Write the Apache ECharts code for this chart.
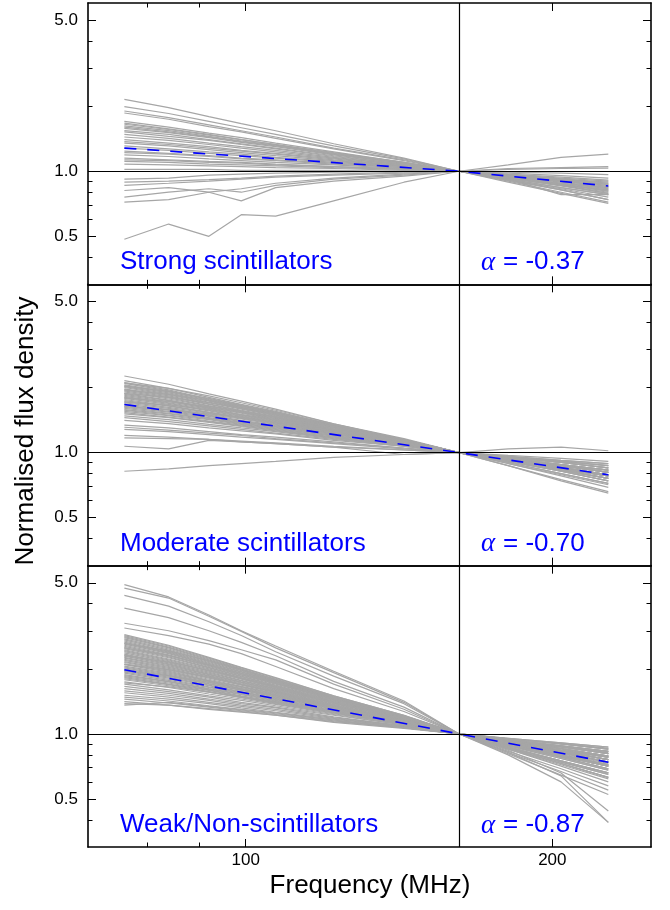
<!DOCTYPE html>
<html>
<head>
<meta charset="utf-8">
<script src="https://cdn.jsdelivr.net/npm/echarts@6/dist/echarts.min.js"></script>
<style>
html, body { margin: 0; padding: 0; background: #fff; }
#chart { width: 670px; height: 910px; }
</style>
</head>
<body>
<div id="chart"></div>
<script>
// frequencies (MHz) shared by all spectra, normalised at 162 MHz
const freqs = [76, 84, 92, 99, 107, 122, 143, 162, 181, 204, 227];

// strong scintillators
const strongLines = [
  [2.15, 1.97, 1.79, 1.66, 1.54, 1.34, 1.15, 1, 0.96, 0.92, 0.89],
  [1.99, 1.85, 1.70, 1.59, 1.48, 1.31, 1.14, 1, 0.95, 0.90, 0.85],
  [1.90, 1.77, 1.64, 1.54, 1.44, 1.28, 1.13, 1, 0.94, 0.88, 0.83],
  [1.86, 1.74, 1.61, 1.52, 1.42, 1.27, 1.12, 1, 0.93, 0.87, 0.81],
  [1.70, 1.60, 1.50, 1.43, 1.35, 1.23, 1.10, 1, 0.91, 0.83, 0.76],
  [1.67, 1.57, 1.48, 1.40, 1.33, 1.22, 1.10, 1, 0.955, 0.91, 0.87],
  [1.62, 1.54, 1.45, 1.38, 1.32, 1.20, 1.09, 1, 0.94, 0.87, 0.82],
  [1.58, 1.51, 1.43, 1.36, 1.30, 1.19, 1.09, 1, 0.93, 0.86, 0.80],
  [1.54, 1.48, 1.40, 1.34, 1.28, 1.18, 1.08, 1, 0.965, 0.93, 0.90],
  [1.48, 1.42, 1.35, 1.30, 1.25, 1.16, 1.07, 1, 0.95, 0.90, 0.86],
  [1.44, 1.39, 1.33, 1.28, 1.23, 1.15, 1.07, 1, 0.92, 0.84, 0.78],
  [1.40, 1.35, 1.30, 1.25, 1.21, 1.14, 1.06, 1, 0.94, 0.88, 0.84],
  [1.35, 1.31, 1.26, 1.22, 1.18, 1.12, 1.06, 1, 1.07, 1.16, 1.20],
  [1.28, 1.25, 1.21, 1.18, 1.15, 1.10, 1.05, 1, 0.93, 0.87, 0.82],
  [1.24, 1.21, 1.18, 1.15, 1.13, 1.09, 1.04, 1, 0.98, 0.955, 0.93],
  [1.19, 1.17, 1.14, 1.12, 1.10, 1.07, 1.03, 1, 0.945, 0.89, 0.84],
  [1.15, 1.13, 1.11, 1.10, 1.08, 1.05, 1.03, 1, 0.91, 0.82, 0.74],
  [1.11, 1.10, 1.08, 1.07, 1.06, 1.04, 1.02, 1, 1.03, 1.04, 1.05],
  [1.08, 1.07, 1.06, 1.05, 1.04, 1.03, 1.01, 1, 0.96, 0.92, 0.88],
  [1.02, 1.02, 1.02, 1.01, 1.01, 1.01, 1.00, 1, 0.99, 0.98, 0.965],
  [1.60, 1.52, 1.44, 1.37, 1.31, 1.20, 1.09, 1, 0.90, 0.80, 0.72],
  [1.52, 1.45, 1.39, 1.33, 1.27, 1.17, 1.08, 1, 0.97, 0.94, 0.91],
  [1.31, 1.27, 1.23, 1.20, 1.16, 1.11, 1.05, 1, 0.89, 0.79, 0.71],
  [1.22, 1.20, 1.17, 1.14, 1.12, 1.08, 1.04, 1, 0.93, 0.86, 0.79],
  [1.13, 1.12, 1.10, 1.09, 1.07, 1.05, 1.02, 1, 1.02, 1.03, 1.035],
  [1.65, 1.56, 1.47, 1.40, 1.33, 1.21, 1.10, 1, 0.92, 0.78, 0.78],
  [1.37, 1.33, 1.28, 1.24, 1.20, 1.13, 1.06, 1, 0.91, 0.82, 0.74],
  [0.92, 0.93, 0.96, 0.97, 0.98, 0.99, 1.00, 1, 0.95, 0.91, 0.87],
  [0.89, 0.90, 0.915, 0.93, 0.95, 0.97, 0.99, 1, 0.93, 0.87, 0.81],
  [0.86, 0.88, 0.90, 0.92, 0.94, 0.96, 0.98, 1, 0.94, 0.88, 0.83],
  [0.815, 0.84, 0.80, 0.83, 0.88, 0.93, 0.97, 1, 0.92, 0.84, 0.78],
  [0.76, 0.80, 0.83, 0.80, 0.86, 0.92, 0.96, 1, 0.93, 0.855, 0.79],
  [0.72, 0.74, 0.80, 0.73, 0.84, 0.90, 0.95, 1, 0.95, 0.90, 0.85],
  [0.485, 0.57, 0.50, 0.63, 0.62, 0.73, 0.89, 1, 0.96, 0.92, 0.88]
];

// moderate scintillators
const moderateLines = [
  [2.26, 2.07, 1.87, 1.73, 1.59, 1.36, 1.16, 1, 0.94, 0.88, 0.83],
  [2.15, 1.98, 1.80, 1.67, 1.55, 1.34, 1.15, 1, 0.91, 0.83, 0.76],
  [2.11, 1.95, 1.77, 1.65, 1.53, 1.33, 1.15, 1, 0.955, 0.91, 0.87],
  [2.09, 1.93, 1.76, 1.64, 1.52, 1.33, 1.15, 1, 0.93, 0.855, 0.79],
  [2.06, 1.91, 1.75, 1.62, 1.51, 1.32, 1.14, 1, 0.90, 0.80, 0.72],
  [2.04, 1.89, 1.73, 1.61, 1.50, 1.32, 1.14, 1, 0.93, 0.87, 0.81],
  [2.02, 1.87, 1.71, 1.60, 1.49, 1.31, 1.14, 1, 0.92, 0.84, 0.78],
  [2.00, 1.85, 1.70, 1.59, 1.48, 1.31, 1.14, 1, 0.96, 0.92, 0.89],
  [1.97, 1.83, 1.68, 1.57, 1.47, 1.30, 1.13, 1, 0.91, 0.82, 0.74],
  [1.95, 1.81, 1.67, 1.56, 1.46, 1.29, 1.13, 1, 0.95, 0.90, 0.85],
  [1.93, 1.79, 1.65, 1.55, 1.45, 1.28, 1.13, 1, 0.93, 0.855, 0.79],
  [1.91, 1.77, 1.64, 1.54, 1.44, 1.28, 1.13, 1, 0.89, 0.79, 0.71],
  [1.88, 1.75, 1.62, 1.53, 1.43, 1.27, 1.12, 1, 0.94, 0.88, 0.83],
  [1.86, 1.74, 1.61, 1.52, 1.42, 1.27, 1.12, 1, 0.91, 0.83, 0.76],
  [1.84, 1.72, 1.60, 1.50, 1.41, 1.26, 1.12, 1, 0.97, 0.94, 0.91],
  [1.82, 1.70, 1.59, 1.49, 1.40, 1.26, 1.12, 1, 0.93, 0.87, 0.81],
  [1.80, 1.69, 1.57, 1.48, 1.39, 1.25, 1.11, 1, 0.92, 0.84, 0.78],
  [1.78, 1.67, 1.56, 1.47, 1.38, 1.25, 1.11, 1, 0.87, 0.75, 0.66],
  [1.76, 1.65, 1.54, 1.46, 1.37, 1.24, 1.11, 1, 0.95, 0.90, 0.85],
  [1.74, 1.64, 1.53, 1.45, 1.37, 1.24, 1.11, 1, 0.91, 0.82, 0.74],
  [1.72, 1.62, 1.52, 1.44, 1.36, 1.23, 1.10, 1, 0.93, 0.855, 0.79],
  [1.70, 1.60, 1.50, 1.43, 1.35, 1.23, 1.10, 1, 0.955, 0.91, 0.87],
  [1.68, 1.58, 1.49, 1.41, 1.34, 1.22, 1.10, 1, 0.89, 0.78, 0.69],
  [1.66, 1.57, 1.48, 1.40, 1.33, 1.22, 1.10, 1, 0.93, 0.87, 0.81],
  [1.64, 1.55, 1.47, 1.39, 1.32, 1.21, 1.09, 1, 0.91, 0.83, 0.76],
  [1.62, 1.54, 1.45, 1.38, 1.32, 1.20, 1.09, 1, 0.94, 0.88, 0.83],
  [1.60, 1.52, 1.44, 1.37, 1.31, 1.20, 1.09, 1, 0.92, 0.84, 0.78],
  [1.58, 1.51, 1.43, 1.36, 1.30, 1.19, 1.09, 1, 0.87, 0.74, 0.65],
  [1.57, 1.49, 1.42, 1.35, 1.29, 1.19, 1.08, 1, 0.93, 0.855, 0.79],
  [1.55, 1.48, 1.40, 1.34, 1.28, 1.18, 1.08, 1, 0.96, 0.92, 0.89],
  [1.53, 1.46, 1.39, 1.33, 1.27, 1.17, 1.08, 1, 0.91, 0.82, 0.74],
  [1.51, 1.45, 1.38, 1.32, 1.26, 1.17, 1.08, 1, 0.93, 0.87, 0.81],
  [1.48, 1.42, 1.35, 1.30, 1.25, 1.16, 1.07, 1, 0.95, 0.90, 0.85],
  [1.45, 1.39, 1.33, 1.28, 1.23, 1.15, 1.07, 1, 0.91, 0.83, 0.76],
  [1.41, 1.36, 1.30, 1.26, 1.22, 1.14, 1.07, 1, 0.92, 0.84, 0.78],
  [1.34, 1.30, 1.25, 1.21, 1.18, 1.12, 1.05, 1, 0.90, 0.80, 0.72],
  [1.31, 1.27, 1.23, 1.20, 1.16, 1.11, 1.05, 1, 0.955, 0.91, 0.87],
  [1.28, 1.25, 1.21, 1.18, 1.15, 1.10, 1.04, 1, 0.93, 0.87, 0.81],
  [1.20, 1.18, 1.15, 1.13, 1.11, 1.07, 1.03, 1, 0.92, 0.84, 0.78],
  [1.17, 1.16, 1.15, 1.12, 1.10, 1.06, 1.03, 1, 0.94, 0.88, 0.83],
  [1.07, 1.04, 1.14, 1.12, 1.10, 1.06, 0.98, 1, 0.93, 0.855, 0.79],
  [0.82, 0.84, 0.87, 0.89, 0.91, 0.95, 0.98, 1, 1.04, 1.06, 1.02],
  [1.95, 1.86, 1.74, 1.63, 1.52, 1.34, 1.15, 1, 0.94, 0.88, 0.83],
  [1.88, 1.80, 1.70, 1.60, 1.50, 1.32, 1.14, 1, 0.92, 0.84, 0.78],
  [1.79, 1.72, 1.63, 1.55, 1.46, 1.30, 1.13, 1, 0.93, 0.855, 0.79],
  [1.71, 1.66, 1.58, 1.50, 1.42, 1.28, 1.12, 1, 0.91, 0.83, 0.76],
  [1.63, 1.58, 1.51, 1.45, 1.38, 1.26, 1.11, 1, 0.95, 0.90, 0.85],
  [2.10, 1.98, 1.83, 1.70, 1.57, 1.36, 1.15, 1, 0.93, 0.87, 0.81],
  [2.03, 1.92, 1.78, 1.66, 1.54, 1.35, 1.15, 1, 0.92, 0.84, 0.78]
];

// weak / non-scintillators
const weakLines = [
  [4.90, 4.30, 3.55, 3.00, 2.55, 1.95, 1.42, 1, 0.80, 0.60, 0.39],
  [4.72, 4.25, 3.50, 2.98, 2.50, 1.92, 1.40, 1, 0.82, 0.64, 0.39],
  [4.37, 3.90, 3.30, 2.85, 2.40, 1.85, 1.38, 1, 0.87, 0.75, 0.66],
  [3.82, 3.45, 3.00, 2.65, 2.30, 1.75, 1.33, 1, 0.84, 0.66, 0.44],
  [3.25, 3.00, 2.70, 2.45, 2.20, 1.70, 1.30, 1, 0.86, 0.73, 0.63],
  [3.09, 2.85, 2.60, 2.35, 2.05, 1.62, 1.27, 1, 0.89, 0.79, 0.71],
  [2.88, 2.57, 2.26, 2.03, 1.82, 1.50, 1.22, 1, 0.955, 0.91, 0.87],
  [2.85, 2.55, 2.24, 2.02, 1.81, 1.50, 1.22, 1, 0.93, 0.855, 0.79],
  [2.82, 2.52, 2.22, 2.00, 1.79, 1.49, 1.21, 1, 0.90, 0.80, 0.72],
  [2.79, 2.50, 2.20, 1.99, 1.78, 1.48, 1.21, 1, 0.94, 0.88, 0.83],
  [2.75, 2.47, 2.18, 1.97, 1.77, 1.48, 1.21, 1, 0.87, 0.75, 0.66],
  [2.72, 2.44, 2.16, 1.96, 1.76, 1.47, 1.20, 1, 0.91, 0.83, 0.76],
  [2.69, 2.41, 2.14, 1.94, 1.75, 1.47, 1.20, 1, 0.95, 0.90, 0.85],
  [2.66, 2.39, 2.12, 1.93, 1.74, 1.46, 1.20, 1, 0.89, 0.78, 0.69],
  [2.63, 2.37, 2.10, 1.91, 1.73, 1.45, 1.20, 1, 0.92, 0.84, 0.78],
  [2.60, 2.35, 2.09, 1.90, 1.72, 1.45, 1.19, 1, 0.93, 0.87, 0.81],
  [2.57, 2.32, 2.07, 1.88, 1.71, 1.44, 1.19, 1, 0.91, 0.82, 0.74],
  [2.54, 2.30, 2.05, 1.87, 1.70, 1.44, 1.19, 1, 0.86, 0.73, 0.63],
  [2.51, 2.27, 2.03, 1.85, 1.68, 1.43, 1.19, 1, 0.95, 0.90, 0.86],
  [2.48, 2.25, 2.02, 1.84, 1.67, 1.42, 1.18, 1, 0.89, 0.79, 0.71],
  [2.45, 2.22, 2.00, 1.82, 1.66, 1.41, 1.18, 1, 0.93, 0.855, 0.79],
  [2.43, 2.20, 1.98, 1.81, 1.65, 1.41, 1.18, 1, 0.85, 0.71, 0.60],
  [2.40, 2.18, 1.96, 1.80, 1.64, 1.40, 1.18, 1, 0.91, 0.83, 0.76],
  [2.37, 2.16, 1.95, 1.79, 1.63, 1.40, 1.17, 1, 0.94, 0.88, 0.83],
  [2.34, 2.13, 1.93, 1.77, 1.62, 1.39, 1.17, 1, 0.88, 0.77, 0.68],
  [2.32, 2.11, 1.91, 1.76, 1.61, 1.39, 1.17, 1, 0.90, 0.80, 0.72],
  [2.29, 2.09, 1.89, 1.74, 1.60, 1.38, 1.17, 1, 0.92, 0.84, 0.78],
  [2.26, 2.07, 1.88, 1.73, 1.59, 1.37, 1.16, 1, 0.93, 0.87, 0.81],
  [2.24, 2.05, 1.86, 1.72, 1.58, 1.36, 1.16, 1, 0.83, 0.69, 0.575],
  [2.21, 2.03, 1.85, 1.70, 1.57, 1.35, 1.16, 1, 0.91, 0.82, 0.74],
  [2.19, 2.01, 1.83, 1.69, 1.56, 1.35, 1.16, 1, 0.95, 0.90, 0.85],
  [2.16, 1.99, 1.81, 1.68, 1.55, 1.34, 1.15, 1, 0.87, 0.74, 0.65],
  [2.14, 1.97, 1.79, 1.66, 1.54, 1.34, 1.15, 1, 0.93, 0.855, 0.79],
  [2.11, 1.95, 1.77, 1.65, 1.53, 1.33, 1.15, 1, 0.89, 0.79, 0.71],
  [2.09, 1.93, 1.76, 1.64, 1.52, 1.33, 1.15, 1, 0.91, 0.83, 0.76],
  [2.06, 1.91, 1.75, 1.62, 1.51, 1.32, 1.14, 1, 0.82, 0.67, 0.55],
  [2.04, 1.89, 1.73, 1.61, 1.50, 1.32, 1.14, 1, 0.94, 0.88, 0.83],
  [2.02, 1.87, 1.71, 1.60, 1.49, 1.31, 1.14, 1, 0.89, 0.78, 0.69],
  [2.00, 1.85, 1.70, 1.59, 1.48, 1.31, 1.14, 1, 0.92, 0.84, 0.78],
  [1.97, 1.83, 1.68, 1.57, 1.47, 1.30, 1.13, 1, 0.91, 0.82, 0.74],
  [1.95, 1.81, 1.67, 1.56, 1.46, 1.29, 1.13, 1, 0.93, 0.87, 0.81],
  [1.93, 1.79, 1.65, 1.55, 1.45, 1.28, 1.13, 1, 0.85, 0.72, 0.62],
  [1.91, 1.77, 1.64, 1.54, 1.44, 1.28, 1.13, 1, 0.90, 0.80, 0.72],
  [1.88, 1.75, 1.62, 1.53, 1.43, 1.27, 1.12, 1, 0.955, 0.91, 0.87],
  [1.86, 1.74, 1.61, 1.52, 1.42, 1.27, 1.12, 1, 0.87, 0.75, 0.66],
  [1.84, 1.72, 1.60, 1.50, 1.41, 1.26, 1.12, 1, 0.91, 0.83, 0.76],
  [1.82, 1.70, 1.59, 1.49, 1.40, 1.26, 1.12, 1, 0.93, 0.855, 0.79],
  [1.80, 1.69, 1.57, 1.48, 1.39, 1.25, 1.11, 1, 0.81, 0.645, 0.525],
  [1.78, 1.67, 1.56, 1.47, 1.38, 1.25, 1.11, 1, 0.89, 0.79, 0.71],
  [1.74, 1.64, 1.53, 1.45, 1.37, 1.24, 1.11, 1, 0.94, 0.88, 0.83],
  [1.70, 1.60, 1.50, 1.43, 1.35, 1.23, 1.10, 1, 0.91, 0.82, 0.74],
  [1.66, 1.57, 1.48, 1.40, 1.33, 1.22, 1.10, 1, 0.92, 0.84, 0.78],
  [1.62, 1.54, 1.45, 1.38, 1.32, 1.20, 1.09, 1, 0.88, 0.77, 0.68],
  [1.58, 1.51, 1.43, 1.36, 1.30, 1.19, 1.09, 1, 0.93, 0.87, 0.81],
  [1.55, 1.48, 1.40, 1.34, 1.28, 1.18, 1.08, 1, 0.90, 0.80, 0.72],
  [1.51, 1.45, 1.38, 1.32, 1.26, 1.17, 1.08, 1, 0.91, 0.83, 0.76],
  [1.48, 1.42, 1.35, 1.30, 1.25, 1.16, 1.07, 1, 0.86, 0.73, 0.63],
  [1.45, 1.39, 1.33, 1.28, 1.23, 1.15, 1.07, 1, 0.95, 0.90, 0.85],
  [1.41, 1.36, 1.30, 1.26, 1.22, 1.14, 1.07, 1, 0.89, 0.78, 0.69],
  [1.36, 1.40, 1.34, 1.29, 1.24, 1.16, 1.07, 1, 0.93, 0.855, 0.79],
  [1.38, 1.36, 1.31, 1.27, 1.22, 1.13, 1.06, 1, 0.91, 0.82, 0.74],
  [2.30, 2.15, 1.97, 1.81, 1.65, 1.40, 1.17, 1, 0.87, 0.74, 0.65],
  [2.10, 1.98, 1.83, 1.70, 1.57, 1.36, 1.15, 1, 0.92, 0.84, 0.78],
  [1.96, 1.86, 1.73, 1.62, 1.51, 1.33, 1.14, 1, 0.94, 0.875, 0.82],
  [1.72, 1.65, 1.56, 1.48, 1.40, 1.27, 1.12, 1, 0.89, 0.79, 0.71],
  [2.50, 2.30, 2.08, 1.90, 1.72, 1.45, 1.19, 1, 0.91, 0.83, 0.76],
  [2.62, 2.42, 2.18, 1.98, 1.79, 1.48, 1.20, 1, 0.90, 0.81, 0.73]
];

// mean spectral fits (dashed blue)
const fitFreqs = [76, 162, 227];
const strongFit = [1.28, 1.0, 0.855];
const moderateFit = [1.67, 1.0, 0.79];
const weakFit = [1.98, 1.0, 0.74];

const panelNames = ['Strong scintillators', 'Moderate scintillators', 'Weak/Non-scintillators'];
const alphaValues = ['-0.37', '-0.70', '-0.87'];

const xTicks = [100, 200];
const xMinorTicks = [80, 90];
const yTicks = [0.5, 1.0, 5.0];
const yMinorTicks = [0.4, 0.6, 0.7, 0.8, 0.9, 2, 3, 4];
const refFreq = 162;
const refFlux = 1.0;

const xMin = 70, xMax = 250;
const yMin = 0.3, yMax = 6;

const sansFont = '"Liberation Sans", Arial, Helvetica, sans-serif';
const grey = '#a6a6a6';
const blue = '#0000ff';

const chart = echarts.init(document.getElementById('chart'));

const gridTop = 3;
const gridH = 281.33;
const grids = [];
const xAxes = [];
const yAxes = [];
const series = [];
const graphics = [];

function xAxisDef(g, pos, ticks, len, showLine, showLabel) {
  return {
    type: 'log', logBase: 10, gridIndex: g, position: pos, min: xMin, max: xMax,
    axisLine: { show: showLine, onZero: false, lineStyle: { color: '#000', width: 1.6 } },
    axisTick: { show: true, inside: true, length: len, customValues: ticks, lineStyle: { color: '#000', width: 1 } },
    axisLabel: { show: showLabel, customValues: ticks, margin: 5, color: '#000', fontSize: 17, fontFamily: sansFont },
    splitLine: { show: false }
  };
}

function yAxisDef(g, pos, ticks, len, showLine, showLabel) {
  return {
    type: 'log', logBase: 10, gridIndex: g, position: pos, min: yMin, max: yMax,
    axisLine: { show: showLine, onZero: false, lineStyle: { color: '#000', width: 1.6 } },
    axisTick: { show: true, inside: true, length: len, customValues: ticks, lineStyle: { color: '#000', width: 1 } },
    axisLabel: {
      show: showLabel, customValues: ticks, margin: 10, color: '#000', fontSize: 17, fontFamily: sansFont,
      formatter: v => Number(v).toFixed(1)
    },
    splitLine: { show: false }
  };
}

const panelLines = [strongLines, moderateLines, weakLines];
const panelFits = [strongFit, moderateFit, weakFit];

panelLines.forEach((lines, g) => {
  const top = gridTop + gridH * g;
  grids.push({ left: 88, width: 563, top: top, height: gridH, containLabel: false });

  const isBottom = g === panelLines.length - 1;
  xAxes.push(xAxisDef(g, 'bottom', xTicks, 8, true, isBottom));
  xAxes.push(xAxisDef(g, 'bottom', xMinorTicks, 4.5, false, false));
  xAxes.push(xAxisDef(g, 'top', xTicks, 8, true, false));
  xAxes.push(xAxisDef(g, 'top', xMinorTicks, 4.5, false, false));

  yAxes.push(yAxisDef(g, 'left', yTicks, 8, true, true));
  yAxes.push(yAxisDef(g, 'left', yMinorTicks, 4.5, false, false));
  yAxes.push(yAxisDef(g, 'right', yTicks, 8, true, false));
  yAxes.push(yAxisDef(g, 'right', yMinorTicks, 4.5, false, false));

  lines.forEach(vals => {
    series.push({
      type: 'line', xAxisIndex: 4 * g, yAxisIndex: 4 * g,
      data: freqs.map((f, i) => [f, vals[i]]),
      showSymbol: false, symbol: 'none', silent: true, z: 2,
      lineStyle: { color: grey, width: 1.2 }
    });
  });

  series.push({
    type: 'line', xAxisIndex: 4 * g, yAxisIndex: 4 * g,
    data: fitFreqs.map((f, i) => [f, panelFits[g][i]]),
    showSymbol: false, symbol: 'none', silent: true, z: 4,
    lineStyle: { color: blue, width: 1.6, type: [12, 11] },
    markLine: {
      silent: true, symbol: 'none', label: { show: false },
      lineStyle: { color: '#000', width: 1.2, type: 'solid' },
      data: [{ yAxis: refFlux }, { xAxis: refFreq }]
    }
  });

  const textY = 262 + gridH * g;
  graphics.push({
    type: 'text', x: 120, y: textY, z: 10,
    style: { text: panelNames[g], fill: blue, font: '26px ' + sansFont, align: 'left', verticalAlign: 'middle' }
  });
  graphics.push({
    type: 'text', x: 481, y: textY + 1, z: 10,
    style: { text: 'α', fill: blue, font: 'italic 27px "Liberation Serif", "DejaVu Serif", serif', align: 'left', verticalAlign: 'middle' }
  });
  graphics.push({
    type: 'text', x: 503, y: textY, z: 10,
    style: { text: '= ' + alphaValues[g], fill: blue, font: '26px ' + sansFont, align: 'left', verticalAlign: 'middle' }
  });
});

graphics.push({
  type: 'text', x: 26, y: 431, rotation: Math.PI / 2, z: 10,
  style: { text: 'Normalised flux density', fill: '#000', font: '26px ' + sansFont, align: 'center', verticalAlign: 'middle' }
});
graphics.push({
  type: 'text', x: 370, y: 886, z: 10,
  style: { text: 'Frequency (MHz)', fill: '#000', font: '26px ' + sansFont, align: 'center', verticalAlign: 'middle' }
});

chart.setOption({
  backgroundColor: '#fff',
  animation: false,
  grid: grids,
  xAxis: xAxes,
  yAxis: yAxes,
  series: series,
  graphic: graphics
});
</script>
</body>
</html>
